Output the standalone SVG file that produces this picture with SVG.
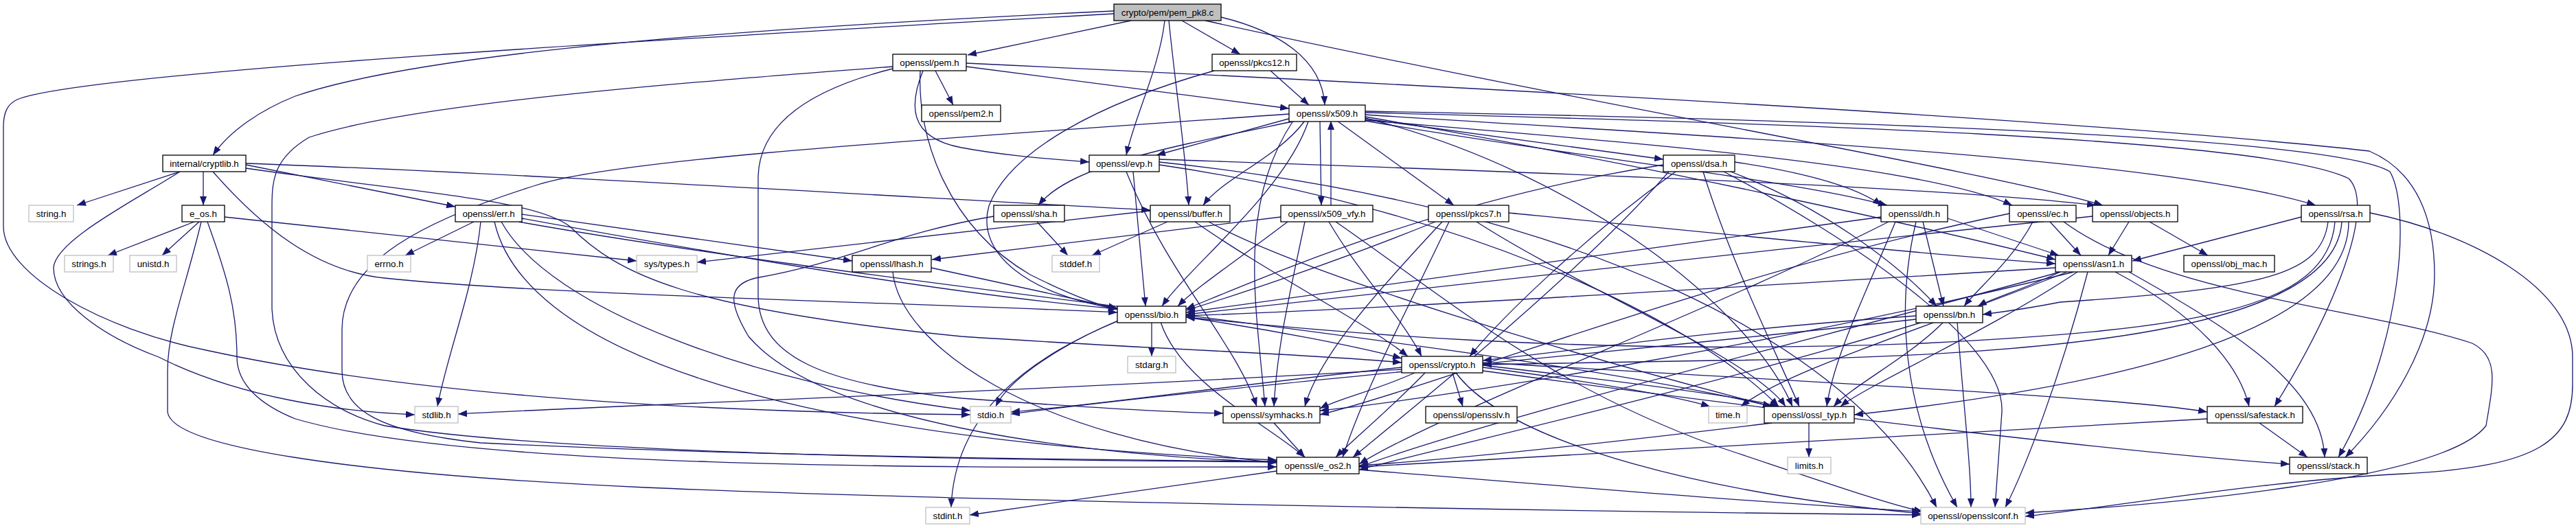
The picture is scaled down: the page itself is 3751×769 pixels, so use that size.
<svg xmlns="http://www.w3.org/2000/svg" width="3751" height="769" viewBox="0 0 3751 769">
<style>
.n rect{fill:#fff;stroke:#000;stroke-width:1.3}
.g rect{fill:#fff;stroke:#bfbfbf;stroke-width:1.3}
.r rect{fill:#bfbfbf;stroke:#000;stroke-width:1.3}
text{font-family:"Liberation Sans",Arial,sans-serif;font-size:13.3px;text-anchor:middle;fill:#000}
#edges path{fill:none;stroke:#191970;stroke-width:1.3;marker-end:url(#a)}
</style>
<defs>
<marker id="a" viewBox="0 0 13 10" refX="13" refY="5" markerWidth="13" markerHeight="10" orient="auto" markerUnits="userSpaceOnUse"><path d="M0,0L13,5L0,10z" fill="#191970"/></marker>
</defs>
<rect width="3751" height="769" fill="#fff"/>
<g id="edges">
<path d="M1647,30L1409,80"/>
<path d="M1721,30L1806,79"/>
<path d="M1696,30C1688,100 1652,170 1640,226"/>
<path d="M1702,30C1712,130 1726,220 1731,299"/>
<path d="M1778,25C1860,45 1925,85 1929,153"/>
<path d="M1755,30C2300,150 2900,250 3062,299"/>
<path d="M1622,16C1100,40 620,75 430,140C380,160 335,190 310,226"/>
<path d="M1622,20C1000,55 120,105 25,145C10,152 5,165 5,185L5,330C5,400 150,480 300,510C600,575 1000,600 1413,604"/>
<path d="M1850,103L1906,153"/>
<path d="M1768,103C1600,150 1470,220 1440,300C1420,370 1500,430 1627,450"/>
<path d="M1362,103L1388,153"/>
<path d="M1407,97L1877,158"/>
<path d="M1344,103C1325,150 1320,200 1400,215C1470,228 1540,232 1586,236"/>
<path d="M1340,103C1335,200 1380,330 1500,400C1560,430 1600,445 1627,450"/>
<path d="M1300,100C1180,130 1104,180 1104,260L1104,430C1104,520 1200,560 1400,580C1600,595 1700,600 1781,602"/>
<path d="M1300,97C1000,120 600,150 450,200C400,230 396,260 396,300L396,450C400,540 480,600 560,620C800,660 1400,670 1859,673"/>
<path d="M1407,92C2000,120 3000,170 3450,220C3520,250 3545,320 3545,400C3545,500 3480,600 3415,666"/>
<path d="M262,250L112,299"/>
<path d="M296,250L296,299"/>
<path d="M262,250C200,290 80,350 78,390C78,440 150,490 231,520C350,580 500,600 604,604"/>
<path d="M310,250C380,330 460,395 560,405C800,430 1300,440 1627,455"/>
<path d="M358,240L663,301"/>
<path d="M358,238C700,250 1200,280 1675,306"/>
<path d="M358,245C600,280 780,290 830,330C900,400 1000,450 1400,490C1700,510 1900,515 2041,528"/>
<path d="M283,323L157,372"/>
<path d="M290,323L236,372"/>
<path d="M327,316L927,380"/>
<path d="M302,323C330,400 345,450 345,520C345,560 380,590 430,610C700,690 1500,680 1859,680"/>
<path d="M293,323C270,420 244,480 244,540L244,600C250,650 500,690 940,710C1400,730 2300,745 2797,750"/>
<path d="M1880,172L1684,226"/>
<path d="M1887,176C1700,215 1560,240 1512,299"/>
<path d="M1900,176C1860,230 1780,260 1752,299"/>
<path d="M1922,176L1924,299"/>
<path d="M1905,177C1870,280 1730,390 1692,446"/>
<path d="M1883,176C1800,300 1830,450 1842,592"/>
<path d="M1877,166C1400,200 900,230 780,270C620,320 498,380 498,480L498,540C498,600 560,630 700,645C1100,665 1600,670 1859,672"/>
<path d="M1988,172C2300,250 2550,450 2610,592"/>
<path d="M1988,170C2400,240 2800,330 2993,378"/>
<path d="M1988,164C2600,180 3300,200 3420,260C3460,300 3400,450 3312,592"/>
<path d="M1988,162C2700,175 3400,200 3480,250C3510,300 3500,500 3405,666"/>
<path d="M1988,167C2500,200 3150,230 3372,299"/>
<path d="M1988,175C2400,210 2800,240 2930,299"/>
<path d="M1988,173L2422,232"/>
<path d="M1988,176C2300,230 2600,260 2748,299"/>
<path d="M1947,176L2117,299"/>
<path d="M1938,299L1938,176"/>
<path d="M1865,316L1357,378"/>
<path d="M1875,323C1800,380 1740,420 1715,446"/>
<path d="M1935,323C1980,400 2040,460 2070,519"/>
<path d="M1900,323C1880,420 1860,500 1855,592"/>
<path d="M1945,323C2100,430 2250,560 2500,650C2650,700 2750,735 2800,745"/>
<path d="M2197,310C2500,340 2800,370 2993,384"/>
<path d="M2090,323C1950,380 1800,430 1727,452"/>
<path d="M2110,323C2050,450 1990,560 1955,666"/>
<path d="M2100,323C2000,430 1920,520 1900,592"/>
<path d="M2150,323C2300,420 2550,520 2600,592"/>
<path d="M2430,250C2300,400 2050,600 1970,666"/>
<path d="M2422,240C2100,290 1850,400 1727,450"/>
<path d="M2440,250C2300,350 2180,470 2140,519"/>
<path d="M2480,250C2520,380 2580,500 2620,592"/>
<path d="M2510,250C2700,350 2920,500 2915,600L2905,739"/>
<path d="M2520,250C2650,300 2760,380 2820,446"/>
<path d="M2526,236C2620,250 2700,270 2740,299"/>
<path d="M2836,318L2998,372"/>
<path d="M2800,323L2830,446"/>
<path d="M2739,316C2400,360 2000,420 1727,455"/>
<path d="M2750,323C2500,450 2100,600 1979,676"/>
<path d="M2760,323C2720,420 2670,520 2660,592"/>
<path d="M2790,323C2760,450 2770,600 2850,739"/>
<path d="M2985,323L3030,372"/>
<path d="M2960,323C2930,380 2880,420 2860,446"/>
<path d="M2926,311C2500,400 2100,560 1922,604"/>
<path d="M3005,323C3150,430 3450,450 3600,500C3640,520 3630,560 3620,620C3560,700 3150,735 2949,747"/>
<path d="M3130,323L3215,372"/>
<path d="M3100,323L3070,372"/>
<path d="M3047,315C2600,360 2000,430 1727,458"/>
<path d="M3351,316L3105,380"/>
<path d="M3390,323C3380,400 3300,420 3000,440C2950,450 2910,455 2887,458"/>
<path d="M3400,323C3390,450 3200,480 2800,500C2300,520 1900,480 1727,462"/>
<path d="M3410,323C3400,480 3000,520 2500,525C2300,528 2200,530 2159,531"/>
<path d="M3420,323C3420,480 3100,560 2700,604"/>
<path d="M3451,310C3600,340 3746,420 3746,520L3746,560C3746,640 3700,680 3500,690C3300,700 3100,735 2949,752"/>
<path d="M1356,390L1627,449"/>
<path d="M1300,396C1310,500 1500,640 1859,674"/>
<path d="M3010,396C2800,480 2600,540 2535,592"/>
<path d="M3000,396C2700,480 2200,600 1979,680"/>
<path d="M3040,396C3000,550 2950,680 2920,739"/>
<path d="M2993,390C2500,420 2000,450 1727,460"/>
<path d="M3100,396C3250,480 3380,560 3385,666"/>
<path d="M3080,396C3200,460 3260,530 3275,592"/>
<path d="M3020,396C2600,500 2100,580 1922,598"/>
<path d="M3025,396C2900,480 2720,560 2680,592"/>
<path d="M3000,396C2950,420 2900,435 2880,446"/>
<path d="M1677,469L1677,519"/>
<path d="M1630,466C1550,500 1470,550 1450,592"/>
<path d="M1627,468C1500,520 1390,600 1385,739"/>
<path d="M1690,469C1720,560 1850,620 1900,666"/>
<path d="M1727,462C1850,480 1980,505 2041,522"/>
<path d="M2800,469C2500,560 2150,640 1979,684"/>
<path d="M2790,465C2300,520 1800,560 1472,603"/>
<path d="M2850,469C2860,600 2870,680 2870,739"/>
<path d="M2830,469C2780,520 2700,560 2670,592"/>
<path d="M2790,460C2500,480 2300,510 2159,525"/>
<path d="M2041,538C1500,570 900,590 667,603"/>
<path d="M2159,535C2350,560 2450,580 2490,592"/>
<path d="M2075,543C2020,600 1970,640 1945,666"/>
<path d="M2041,535C1800,560 1600,590 1472,600"/>
<path d="M2159,528C2700,560 3100,580 3214,600"/>
<path d="M2115,543L2130,592"/>
<path d="M2159,532C2400,560 2550,580 2590,592"/>
<path d="M2120,543C2200,650 2500,720 2797,748"/>
<path d="M2060,543C2000,570 1950,580 1922,595"/>
<path d="M2159,540C2600,600 3100,660 3334,676"/>
<path d="M1979,684C2300,710 2600,735 2797,745"/>
<path d="M1859,686L1412,750"/>
<path d="M3290,616L3360,666"/>
<path d="M3214,610C2700,640 2200,670 1979,680"/>
<path d="M1855,616L1900,666"/>
<path d="M2634,616L2634,666"/>
<path d="M2580,616C2300,650 2100,670 1979,678"/>
<path d="M690,323L590,372"/>
<path d="M700,323C690,420 650,520 637,592"/>
<path d="M720,323C760,500 1100,640 1859,670"/>
<path d="M730,323C800,450 1100,560 1413,598"/>
<path d="M755,323C1300,420 2200,500 2580,592"/>
<path d="M760,318C1100,380 1400,430 1627,450"/>
<path d="M760,312L1241,380"/>
<path d="M1650,250L1668,446"/>
<path d="M1688,240C2100,300 2450,450 2590,592"/>
<path d="M1640,250C1700,400 1800,500 1830,592"/>
<path d="M1688,236C2300,300 2700,500 2820,739"/>
<path d="M1688,232C2200,250 2800,270 3052,299"/>
<path d="M1510,323L1555,372"/>
<path d="M1447,315C1300,340 1240,380 1100,405C1060,415 1060,440 1090,490C1200,620 1600,665 1859,673"/>
<path d="M1700,323L1590,372"/>
<path d="M1675,307L1015,382"/>
<path d="M1760,323C1900,400 2300,520 2580,592"/>
<path d="M1740,323C1850,400 1990,470 2050,519"/>
</g>
<g id="n_root" class="r"><rect x="1622" y="6" width="156" height="24"/><text x="1700" y="22.5">crypto/pem/pem_pk8.c</text></g>
<g id="n_pem" class="n"><rect x="1300" y="79" width="107" height="24"/><text x="1353.5" y="95.5">openssl/pem.h</text></g>
<g id="n_pkcs12" class="n"><rect x="1765" y="79" width="123" height="24"/><text x="1826.5" y="95.5">openssl/pkcs12.h</text></g>
<g id="n_pem2" class="n"><rect x="1342" y="153" width="115" height="24"/><text x="1399.5" y="169.5">openssl/pem2.h</text></g>
<g id="n_x509" class="n"><rect x="1877" y="153" width="111" height="24"/><text x="1932.5" y="169.5">openssl/x509.h</text></g>
<g id="n_cryptlib" class="n"><rect x="237" y="226" width="121" height="24"/><text x="297.5" y="242.5">internal/cryptlib.h</text></g>
<g id="n_evp" class="n"><rect x="1586" y="226" width="102" height="24"/><text x="1637" y="242.5">openssl/evp.h</text></g>
<g id="n_dsa" class="n"><rect x="2422" y="226" width="104" height="24"/><text x="2474" y="242.5">openssl/dsa.h</text></g>
<g id="n_string" class="g"><rect x="42" y="299" width="65" height="24"/><text x="74.5" y="315.5">string.h</text></g>
<g id="n_e_os" class="n"><rect x="265" y="299" width="62" height="24"/><text x="296" y="315.5">e_os.h</text></g>
<g id="n_err" class="n"><rect x="663" y="299" width="97" height="24"/><text x="711.5" y="315.5">openssl/err.h</text></g>
<g id="n_sha" class="n"><rect x="1447" y="299" width="103" height="24"/><text x="1498.5" y="315.5">openssl/sha.h</text></g>
<g id="n_buffer" class="n"><rect x="1675" y="299" width="116" height="24"/><text x="1733" y="315.5">openssl/buffer.h</text></g>
<g id="n_x509_vfy" class="n"><rect x="1865" y="299" width="134" height="24"/><text x="1932" y="315.5">openssl/x509_vfy.h</text></g>
<g id="n_pkcs7" class="n"><rect x="2080" y="299" width="117" height="24"/><text x="2138.5" y="315.5">openssl/pkcs7.h</text></g>
<g id="n_dh" class="n"><rect x="2739" y="299" width="97" height="24"/><text x="2787.5" y="315.5">openssl/dh.h</text></g>
<g id="n_ec" class="n"><rect x="2926" y="299" width="97" height="24"/><text x="2974.5" y="315.5">openssl/ec.h</text></g>
<g id="n_objects" class="n"><rect x="3047" y="299" width="124" height="24"/><text x="3109" y="315.5">openssl/objects.h</text></g>
<g id="n_rsa" class="n"><rect x="3351" y="299" width="100" height="24"/><text x="3401" y="315.5">openssl/rsa.h</text></g>
<g id="n_strings" class="g"><rect x="94" y="372" width="71" height="24"/><text x="129.5" y="388.5">strings.h</text></g>
<g id="n_unistd" class="g"><rect x="189" y="372" width="68" height="24"/><text x="223" y="388.5">unistd.h</text></g>
<g id="n_errno" class="g"><rect x="535" y="372" width="63" height="24"/><text x="566.5" y="388.5">errno.h</text></g>
<g id="n_systypes" class="g"><rect x="927" y="372" width="88" height="24"/><text x="971" y="388.5">sys/types.h</text></g>
<g id="n_lhash" class="n"><rect x="1241" y="372" width="115" height="24"/><text x="1298.5" y="388.5">openssl/lhash.h</text></g>
<g id="n_stddef" class="g"><rect x="1532" y="372" width="69" height="24"/><text x="1566.5" y="388.5">stddef.h</text></g>
<g id="n_asn1" class="n"><rect x="2993" y="372" width="111" height="24"/><text x="3048.5" y="388.5">openssl/asn1.h</text></g>
<g id="n_obj_mac" class="n"><rect x="3180" y="372" width="132" height="24"/><text x="3246" y="388.5">openssl/obj_mac.h</text></g>
<g id="n_bio" class="n"><rect x="1627" y="446" width="100" height="24"/><text x="1677" y="462.5">openssl/bio.h</text></g>
<g id="n_bn" class="n"><rect x="2790" y="446" width="97" height="24"/><text x="2838.5" y="462.5">openssl/bn.h</text></g>
<g id="n_stdarg" class="g"><rect x="1642" y="519" width="70" height="24"/><text x="1677" y="535.5">stdarg.h</text></g>
<g id="n_crypto" class="n"><rect x="2041" y="519" width="118" height="24"/><text x="2100" y="535.5">openssl/crypto.h</text></g>
<g id="n_stdlib" class="g"><rect x="604" y="592" width="63" height="24"/><text x="635.5" y="608.5">stdlib.h</text></g>
<g id="n_stdio" class="g"><rect x="1413" y="592" width="59" height="24"/><text x="1442.5" y="608.5">stdio.h</text></g>
<g id="n_symhacks" class="n"><rect x="1781" y="592" width="141" height="24"/><text x="1851.5" y="608.5">openssl/symhacks.h</text></g>
<g id="n_opensslv" class="n"><rect x="2076" y="592" width="133" height="24"/><text x="2142.5" y="608.5">openssl/opensslv.h</text></g>
<g id="n_time" class="g"><rect x="2488" y="592" width="56" height="24"/><text x="2516" y="608.5">time.h</text></g>
<g id="n_ossl_typ" class="n"><rect x="2569" y="592" width="131" height="24"/><text x="2634.5" y="608.5">openssl/ossl_typ.h</text></g>
<g id="n_safestack" class="n"><rect x="3214" y="592" width="139" height="24"/><text x="3283.5" y="608.5">openssl/safestack.h</text></g>
<g id="n_e_os2" class="n"><rect x="1859" y="666" width="120" height="24"/><text x="1919" y="682.5">openssl/e_os2.h</text></g>
<g id="n_limits" class="g"><rect x="2603" y="666" width="63" height="24"/><text x="2634.5" y="682.5">limits.h</text></g>
<g id="n_stack" class="n"><rect x="3334" y="666" width="113" height="24"/><text x="3390.5" y="682.5">openssl/stack.h</text></g>
<g id="n_stdint" class="g"><rect x="1348" y="739" width="64" height="24"/><text x="1380" y="755.5">stdint.h</text></g>
<g id="n_opensslconf" class="g"><rect x="2797" y="739" width="152" height="24"/><text x="2873" y="755.5">openssl/opensslconf.h</text></g>
</svg>
